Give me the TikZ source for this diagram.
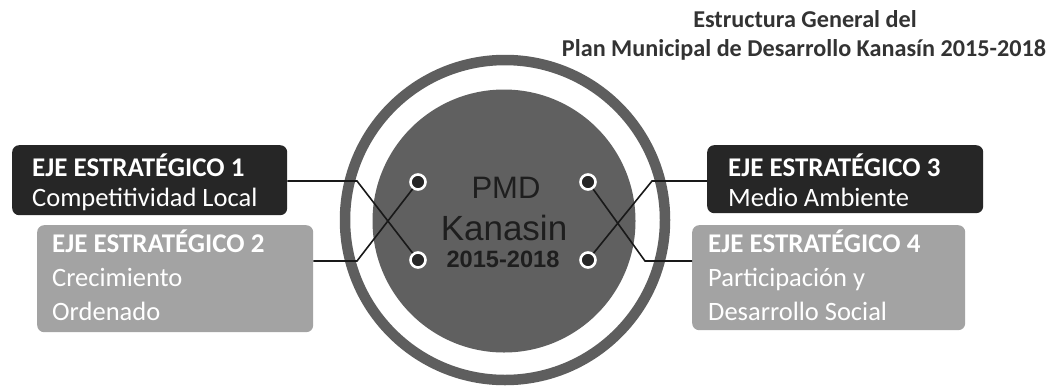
\documentclass[tikz,border=0pt]{standalone}
\usepackage{fontspec}
\setmainfont{Carlito}
\newfontfamily\arialf{Liberation Sans}
\definecolor{darkbox}{HTML}{262626}
\definecolor{lightbox}{HTML}{A3A3A3}
\definecolor{ringgray}{HTML}{5E5E5E}
\definecolor{discgray}{HTML}{606060}
\definecolor{disctext}{HTML}{1E1E1E}
\definecolor{titlegray}{HTML}{333333}
\tikzset{
  axisbox/.style={rounded corners=7pt, inner sep=0pt, anchor=north west},
  axhead/.style={anchor=base west, inner sep=0pt, text=white, font=\fontsize{27}{30}\selectfont\bfseries},
  axbody/.style={anchor=base west, inner sep=0pt, text=white, font=\fontsize{26.5}{30}\selectfont},
  dot/.style={circle, draw=white, line width=2.6pt, fill=black!85, minimum size=15pt, inner sep=0pt},
  link/.style={line width=1.6pt, black!90},
  disctxt/.style={inner sep=0pt, text=disctext},
  ttl/.style={inner sep=0pt, text=titlegray, font=\fontsize{24.2}{27}\selectfont\bfseries},
}
\begin{document}
\begin{tikzpicture}[x=1pt,y=-1pt]
\useasboundingbox (0,0) rectangle (1055,389);
\fill[white] (0,0) rectangle (1055,389);
% title
\node[ttl] (t1) at (805,19) {Estructura General del};
\node[ttl] (t2) at (804,50) {Plan Municipal de Desarrollo Kanasín 2015-2018};
% central circle
\node[circle, draw=ringgray, line width=10.5pt, minimum size=320pt, inner sep=0pt] (ring) at (505,220) {};
\node[circle, fill=discgray, minimum size=263pt, inner sep=0pt] (disc) at (504,221) {};
\node[disctxt, font=\arialf\fontsize{31}{34}\selectfont] (p1) at (506,188) {PMD};
\node[disctxt, font=\arialf\fontsize{35}{36}\selectfont] (p2) at (504,228) {Kanasin};
\node[disctxt, font=\arialf\fontsize{23.6}{26}\selectfont\bfseries] (p3) at (503,259) {2015-2018};
% boxes
\node[axisbox, fill=darkbox, minimum width=275pt, minimum height=70pt] (b1) at (12,145) {};
\node[axisbox, fill=lightbox, minimum width=276pt, minimum height=107pt] (b2) at (37,225) {};
\node[axisbox, fill=darkbox, minimum width=276pt, minimum height=68pt] (b3) at (707,145) {};
\node[axisbox, fill=lightbox, minimum width=273pt, minimum height=105pt] (b4) at (692,225) {};
% box texts
\node[axhead] (h1) at (32,176) {EJE ESTRATÉGICO 1};
\node[axbody] (l1) at (32,206) {Competitividad Local};
\node[axhead] (h2) at (52,252) {EJE ESTRATÉGICO 2};
\node[axbody] (l2a) at (52,286) {Crecimiento};
\node[axbody] (l2b) at (52,320) {Ordenado};
\node[axhead] (h3) at (728,176) {EJE ESTRATÉGICO 3};
\node[axbody] (l3) at (728,206) {Medio Ambiente};
\node[axhead] (h4) at (708,252) {EJE ESTRATÉGICO 4};
\node[axbody] (l4a) at (708,286) {Participación y};
\node[axbody] (l4b) at (708,320) {Desarrollo Social};
% dots
\node[dot] (d1) at (418,182) {};
\node[dot] (d2) at (418,260) {};
\node[dot] (d3) at (588,182) {};
\node[dot] (d4) at (588,260) {};
% bends
\coordinate (k1) at (357,181);
\coordinate (k2) at (357,261);
\coordinate (k3) at (652,181);
\coordinate (k4) at (645,261);
% links
\draw[link] (b1.east |- k1) -- (k1) -- (d2);
\draw[link] (b2.east |- k2) -- (k2) -- (d1);
\draw[link] (b3.west |- k3) -- (k3) -- (d4);
\draw[link] (b4.west |- k4) -- (k4) -- (d3);
\end{tikzpicture}
\end{document}
